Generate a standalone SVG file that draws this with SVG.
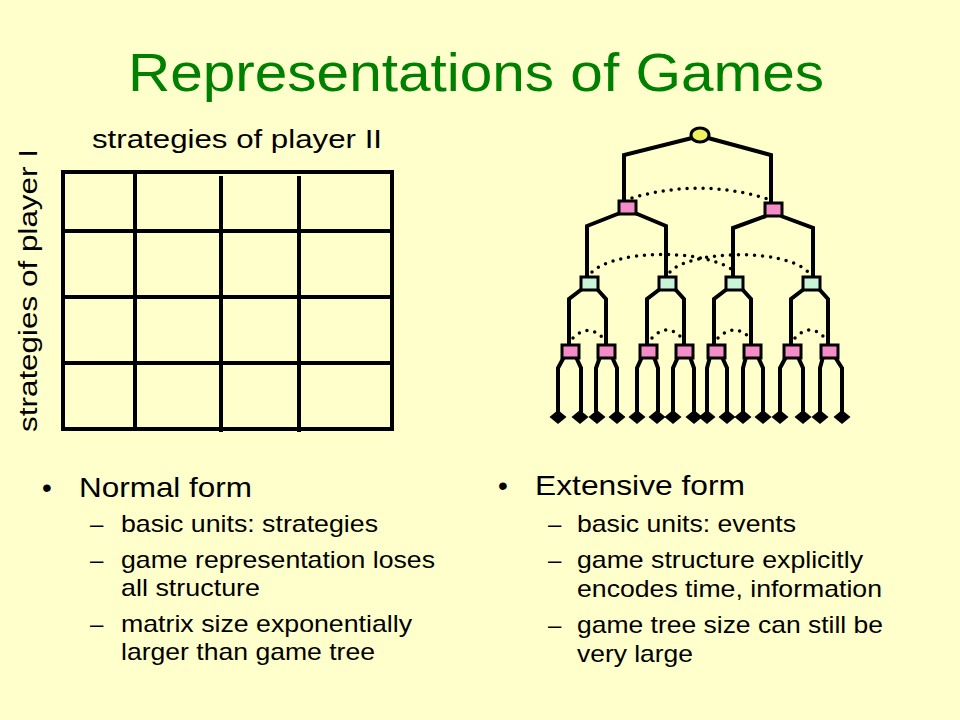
<svg xmlns="http://www.w3.org/2000/svg" width="960" height="720" viewBox="0 0 960 720">
<style>
.bg{fill:#ffffcc}
.title{font-family:"Liberation Sans",Arial,sans-serif;font-size:54px;fill:#008000}
.lbl{font-family:"Liberation Sans",Arial,sans-serif;font-size:26px;fill:#000}
.b1{font-family:"Liberation Sans",Arial,sans-serif;font-size:28px;fill:#000}
.b2{font-family:"Liberation Sans",Arial,sans-serif;font-size:24px;fill:#000}
.grid{stroke:#000;stroke-width:4;fill:none}
.edge{stroke:#000;stroke-width:4;fill:none;stroke-linejoin:miter}
.info{stroke:#000;stroke-width:3.5;fill:none;stroke-dasharray:0 8;stroke-linecap:round}
.pink{fill:#f48cc8;stroke:#000;stroke-width:3}
.cyan{fill:#c8f4d8;stroke:#000;stroke-width:3}
.root{fill:#f0f060;stroke:#000;stroke-width:3}
.leaf{fill:#000}
</style>
<rect class="bg" x="0" y="0" width="960" height="720"/>
<text class="title" x="128" y="91" textLength="696" lengthAdjust="spacingAndGlyphs">Representations of Games</text>

<g id="matrix">
<text class="lbl" x="92" y="148" textLength="290" lengthAdjust="spacingAndGlyphs">strategies of player II</text>
<text class="lbl" transform="translate(37,432) rotate(-90)" x="0" y="0" textLength="283" lengthAdjust="spacingAndGlyphs">strategies of player I</text>
<rect class="grid" x="63" y="172" width="329" height="257"/>
<line class="grid" x1="135" y1="172" x2="135" y2="429"/>
<line class="grid" x1="221" y1="176" x2="221" y2="432"/>
<line class="grid" x1="299" y1="176" x2="299" y2="432"/>
<line class="grid" x1="63" y1="231" x2="392" y2="231"/>
<line class="grid" x1="63" y1="297" x2="392" y2="297"/>
<line class="grid" x1="63" y1="363" x2="392" y2="363"/>
</g>

<g id="connectors">
<polyline class="edge" points="692,138 624,155 624,202"/>
<polyline class="edge" points="708,138 771,155 771,204"/>
<polyline class="edge" points="620,213 587,226 587,277"/>
<polyline class="edge" points="635,213 666,226 666,277"/>
<polyline class="edge" points="766,216 733,228 733,277"/>
<polyline class="edge" points="781,216 813,228 813,277"/>
<polyline class="edge" points="582,289 569,299 569,345"/>
<polyline class="edge" points="597,289 606,299 606,345"/>
<polyline class="edge" points="660,289 647,299 647,345"/>
<polyline class="edge" points="675,289 684,299 684,345"/>
<polyline class="edge" points="727,289 714,299 714,345"/>
<polyline class="edge" points="742,289 751,299 751,345"/>
<polyline class="edge" points="804,289 791,299 791,345"/>
<polyline class="edge" points="819,289 828,299 828,345"/>
<polyline class="edge" points="564,357 558,368 558,412"/>
<polyline class="edge" points="576,357 581,368 581,412"/>
<polyline class="edge" points="600,357 596,368 596,412"/>
<polyline class="edge" points="612,357 617,368 617,412"/>
<polyline class="edge" points="642,357 637,368 637,412"/>
<polyline class="edge" points="654,357 658,368 658,412"/>
<polyline class="edge" points="678,357 673,368 673,412"/>
<polyline class="edge" points="690,357 694,368 694,412"/>
<polyline class="edge" points="710,357 707,368 707,412"/>
<polyline class="edge" points="722,357 727,368 727,412"/>
<polyline class="edge" points="746,357 743,368 743,412"/>
<polyline class="edge" points="758,357 763,368 763,412"/>
<polyline class="edge" points="786,357 780,368 780,412"/>
<polyline class="edge" points="798,357 803,368 803,412"/>
<polyline class="edge" points="823,357 820,368 820,412"/>
<polyline class="edge" points="835,357 842,368 842,412"/>
<path class="info" d="M632,198 Q700,178 768,199"/>
<path class="info" d="M592,272 C615,250 700,248 733,270"/>
<path class="info" d="M670,272 C690,250 785,248 808,272"/>
<path class="info" d="M573,338 Q588,323 603,338"/>
<path class="info" d="M652,338 Q667,322 682,338"/>
<path class="info" d="M718,338 Q734,322 750,338"/>
<path class="info" d="M795,338 Q810,322 825,338"/>
</g>

<g id="root"><ellipse class="root" cx="700" cy="135" rx="9" ry="7"/></g>
<g id="p1a"><rect class="pink" x="619" y="201" width="17" height="13"/></g>
<g id="p1b"><rect class="pink" x="765" y="203" width="17" height="13"/></g>
<g id="c2a"><rect class="cyan" x="581" y="277" width="17" height="13"/></g>
<g id="c2b"><rect class="cyan" x="659" y="277" width="17" height="13"/></g>
<g id="c2c"><rect class="cyan" x="726" y="277" width="17" height="13"/></g>
<g id="c2d"><rect class="cyan" x="803" y="277" width="17" height="13"/></g>
<g id="p3a"><rect class="pink" x="562" y="345" width="17" height="13"/></g>
<g id="p3b"><rect class="pink" x="598" y="345" width="17" height="13"/></g>
<g id="p3c"><rect class="pink" x="640" y="345" width="17" height="13"/></g>
<g id="p3d"><rect class="pink" x="676" y="345" width="17" height="13"/></g>
<g id="p3e"><rect class="pink" x="708" y="345" width="17" height="13"/></g>
<g id="p3f"><rect class="pink" x="744" y="345" width="17" height="13"/></g>
<g id="p3g"><rect class="pink" x="784" y="345" width="17" height="13"/></g>
<g id="p3h"><rect class="pink" x="821" y="345" width="17" height="13"/></g>
<g id="leaves">
<polygon class="leaf" points="558,410 566.5,417 558,424 549.5,417"/>
<polygon class="leaf" points="580,410 588.5,417 580,424 571.5,417"/>
<polygon class="leaf" points="597,410 605.5,417 597,424 588.5,417"/>
<polygon class="leaf" points="617,410 625.5,417 617,424 608.5,417"/>
<polygon class="leaf" points="637,410 645.5,417 637,424 628.5,417"/>
<polygon class="leaf" points="657,410 665.5,417 657,424 648.5,417"/>
<polygon class="leaf" points="673,410 681.5,417 673,424 664.5,417"/>
<polygon class="leaf" points="694,410 702.5,417 694,424 685.5,417"/>
<polygon class="leaf" points="707,410 715.5,417 707,424 698.5,417"/>
<polygon class="leaf" points="727,410 735.5,417 727,424 718.5,417"/>
<polygon class="leaf" points="743,410 751.5,417 743,424 734.5,417"/>
<polygon class="leaf" points="763,410 771.5,417 763,424 754.5,417"/>
<polygon class="leaf" points="780,410 788.5,417 780,424 771.5,417"/>
<polygon class="leaf" points="803,410 811.5,417 803,424 794.5,417"/>
<polygon class="leaf" points="820,410 828.5,417 820,424 811.5,417"/>
<polygon class="leaf" points="842,410 850.5,417 842,424 833.5,417"/>
</g>

<g id="left-text">
<text class="b1" x="42" y="497">•</text>
<text class="b1" x="79" y="497" textLength="173" lengthAdjust="spacingAndGlyphs">Normal form</text>
<text class="b2" x="90" y="532">–</text>
<text class="b2" x="121" y="532" textLength="257" lengthAdjust="spacingAndGlyphs">basic units: strategies</text>
<text class="b2" x="90" y="568">–</text>
<text class="b2" x="121" y="568" textLength="314" lengthAdjust="spacingAndGlyphs">game representation loses</text>
<text class="b2" x="121" y="596" textLength="139" lengthAdjust="spacingAndGlyphs">all structure</text>
<text class="b2" x="90" y="632">–</text>
<text class="b2" x="121" y="632" textLength="291" lengthAdjust="spacingAndGlyphs">matrix size exponentially</text>
<text class="b2" x="121" y="660" textLength="254" lengthAdjust="spacingAndGlyphs">larger than game tree</text>
</g>
<g id="right-text">
<text class="b1" x="498" y="495">•</text>
<text class="b1" x="535" y="495" textLength="210" lengthAdjust="spacingAndGlyphs">Extensive form</text>
<text class="b2" x="548" y="532">–</text>
<text class="b2" x="577" y="532" textLength="219" lengthAdjust="spacingAndGlyphs">basic units: events</text>
<text class="b2" x="548" y="568">–</text>
<text class="b2" x="577" y="568" textLength="286" lengthAdjust="spacingAndGlyphs">game structure explicitly</text>
<text class="b2" x="577" y="597" textLength="305" lengthAdjust="spacingAndGlyphs">encodes time, information</text>
<text class="b2" x="548" y="633">–</text>
<text class="b2" x="577" y="633" textLength="306" lengthAdjust="spacingAndGlyphs">game tree size can still be</text>
<text class="b2" x="577" y="662" textLength="116" lengthAdjust="spacingAndGlyphs">very large</text>
</g>
</svg>
